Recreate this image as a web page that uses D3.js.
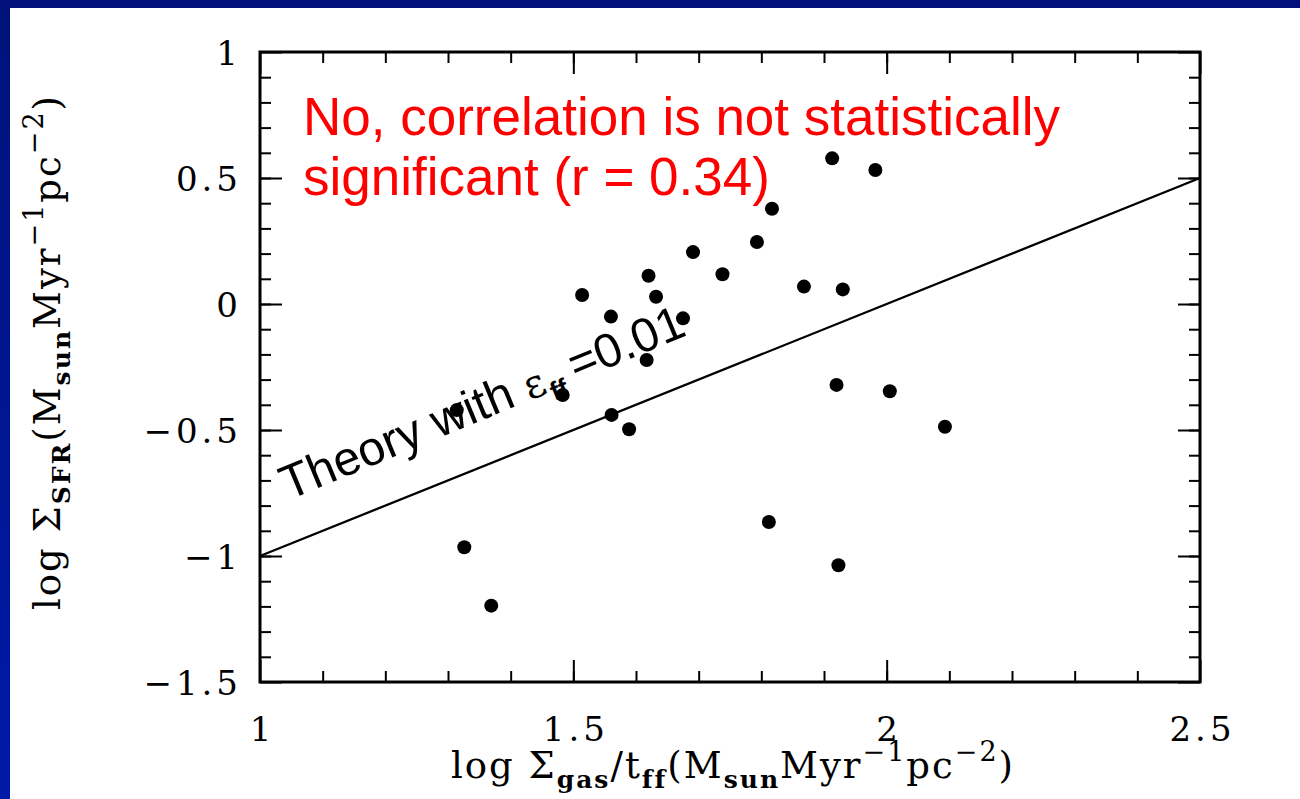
<!DOCTYPE html>
<html>
<head>
<meta charset="utf-8">
<script src="https://cdn.jsdelivr.net/npm/d3@7"></script>
<style>
  body { margin: 0; background: #fff; }
  svg { display: block; }
  .tick text { font-family: "DejaVu Serif", serif; }
</style>
</head>
<body>
<svg id="chart" width="1300" height="799"></svg>
<script>
// points
var gasRate = [1.314, 1.326, 1.369, 1.483, 1.514, 1.560, 1.561, 1.589, 1.620, 1.617,
               1.632, 1.675, 1.691, 1.738, 1.793, 1.817, 1.812, 1.868, 1.913, 1.920,
               1.923, 1.930, 1.982, 2.005, 2.093];
var sfr = [-0.421, -0.965, -1.197, -0.361, 0.036, -0.050, -0.440, -0.497, 0.112, -0.222,
           0.029, -0.057, 0.206, 0.118, 0.246, 0.378, -0.865, 0.069, 0.578, -0.321,
           -1.037, 0.058, 0.532, -0.346, -0.487];
var theoryX = [1, 2.5];
var theoryY = [-1, 0.5];
var xTicks = [1, 1.5, 2, 2.5];
var yTicks = [-1.5, -1, -0.5, 0, 0.5, 1];
var note = ["No, correlation is not statistically", "significant (r = 0.34)"];

(function () {
  var margin = {top: 52, right: 100, bottom: 117, left: 260};
  var width = 1300 - margin.left - margin.right;
  var height = 799 - margin.top - margin.bottom;

  var svg = d3.select("#chart");

  // blue slide frame
  var grad = svg.append("defs").append("linearGradient")
      .attr("id", "side").attr("x1", 0).attr("y1", 0).attr("x2", 0).attr("y2", 1);
  grad.append("stop").attr("offset", "0%").attr("stop-color", "#00127a");
  grad.append("stop").attr("offset", "100%").attr("stop-color", "#001aa8");
  svg.append("rect").attr("x", 0).attr("y", 0).attr("width", 1300).attr("height", 8)
      .attr("fill", "#00127a");
  svg.append("rect").attr("x", 0).attr("y", 0).attr("width", 10).attr("height", 799)
      .attr("fill", "url(#side)");

  var vis = svg.append("g")
      .attr("transform", "translate(" + margin.left + "," + margin.top + ")");

  var x = d3.scaleLinear().domain([1, 2.5]).range([0, width]);
  var y = d3.scaleLinear().domain([-1.5, 1]).range([height, 0]);

  var minorX = d3.range(11, 25).map(function(d) { return d / 10; });
  var minorY = d3.range(-14, 10).map(function(d) { return d / 10; });

  function style(g) {
    g.select(".domain").remove();
    g.selectAll(".tick line").attr("stroke", "#000").attr("stroke-width", 2);
  }

  // minor ticks on all four sides
  vis.append("g").attr("transform", "translate(0," + height + ")")
    .call(d3.axisBottom(x).tickValues(minorX).tickSize(-11).tickFormat(""))
    .call(style);
  vis.append("g")
    .call(d3.axisTop(x).tickValues(minorX).tickSize(-11).tickFormat(""))
    .call(style);
  vis.append("g")
    .call(d3.axisLeft(y).tickValues(minorY).tickSize(-11).tickFormat(""))
    .call(style);
  vis.append("g").attr("transform", "translate(" + width + ",0)")
    .call(d3.axisRight(y).tickValues(minorY).tickSize(-11).tickFormat(""))
    .call(style);

  // major ticks + labels
  var fmt = d3.format("");
  var xb = vis.append("g").attr("transform", "translate(0," + height + ")")
    .call(d3.axisBottom(x).tickValues(xTicks).tickSize(-22).tickPadding(35).tickFormat(fmt))
    .call(style);
  xb.selectAll("text").attr("font-size", 34).attr("fill", "#000")
    .style("letter-spacing", "4px").attr("dx", 2);
  vis.append("g")
    .call(d3.axisTop(x).tickValues(xTicks).tickSize(-22).tickFormat(""))
    .call(style);
  var yl = vis.append("g")
    .call(d3.axisLeft(y).tickValues(yTicks).tickSize(-22).tickPadding(22).tickFormat(fmt))
    .call(style);
  yl.selectAll("text").attr("font-size", 34).attr("fill", "#000")
    .style("letter-spacing", "4px").attr("dx", 4).attr("dy", "0.36em");
  vis.append("g").attr("transform", "translate(" + width + ",0)")
    .call(d3.axisRight(y).tickValues(yTicks).tickSize(-22).tickFormat(""))
    .call(style);

  // frame
  vis.append("rect").attr("width", width).attr("height", height)
    .attr("fill", "none").attr("stroke", "#000").attr("stroke-width", 3);

  // theory line
  var line = d3.line()
    .x(function(d) { return x(d[0]); })
    .y(function(d) { return y(d[1]); });
  vis.append("path")
    .datum(d3.zip(theoryX, theoryY))
    .attr("d", line)
    .attr("fill", "none").attr("stroke", "#000").attr("stroke-width", 2.3);

  // data points
  vis.selectAll("circle")
    .data(d3.zip(gasRate, sfr))
    .enter().append("circle")
      .attr("cx", function(d) { return x(d[0]); })
      .attr("cy", function(d) { return y(d[1]); })
      .attr("r", 7)
      .attr("fill", "#000");

  // theory label
  var lab = vis.append("text")
    .attr("transform", "translate(" + x(1.045) + "," + y(-0.78) + ") rotate(-22.5)")
    .attr("font-family", "Liberation Sans, Arial, sans-serif")
    .attr("font-size", 48).attr("fill", "#000");
  lab.append("tspan").text("Theory with ");
  lab.append("tspan").attr("font-family", "DejaVu Serif, serif").attr("font-size", 40).text("\u03b5");
  lab.append("tspan").attr("font-size", 26).attr("font-weight", "bold").attr("dy", 10).attr("dx", 2).text("ff");
  lab.append("tspan").attr("dy", -10).attr("dx", 10).text("=0.01");

  // red annotation
  vis.selectAll(".note")
    .data(note)
    .enter().append("text")
      .attr("class", "note")
      .attr("x", 43)
      .attr("y", function(d, i) { return 83 + i * 60; })
      .attr("font-family", "Liberation Sans, Arial, sans-serif")
      .attr("font-size", 53)
      .attr("fill", "#ff0000")
      .text(function(d) { return d; });

  // axis titles: parts are [text, "sub"|"sup"|undefined]
  function title(t, parts) {
    var shift = 0;
    parts.forEach(function(p) {
      var s = t.append("tspan").text(p[0]);
      var want = p[1] === "sub" ? 10 : p[1] === "sup" ? -17 : 0;
      s.attr("dy", want - shift);
      shift = want;
      if (p[1] === "sub") s.attr("font-size", 25).attr("font-weight", "bold");
      if (p[1] === "sup") s.attr("font-size", 27);
    });
  }

  var xt = svg.append("text")
    .attr("x", 733).attr("y", 778)
    .attr("text-anchor", "middle")
    .attr("font-family", "DejaVu Serif, serif")
    .attr("font-size", 37).attr("fill", "#000")
    .style("letter-spacing", "2px");
  title(xt, [["log  \u03a3"], ["gas", "sub"], ["/t"], ["ff", "sub"], ["(M"], ["sun", "sub"],
             ["Myr"], ["\u22121", "sup"], ["pc"], ["\u22122", "sup"], [")"]]);

  var yt = svg.append("text")
    .attr("transform", "translate(60,352) rotate(-90)")
    .attr("text-anchor", "middle")
    .attr("font-family", "DejaVu Serif, serif")
    .attr("font-size", 37).attr("fill", "#000")
    .style("letter-spacing", "2px");
  title(yt, [["log  \u03a3"], ["SFR", "sub"], ["(M"], ["sun", "sub"],
             ["Myr"], ["\u22121", "sup"], ["pc"], ["\u22122", "sup"], [")"]]);
})();
</script>
</body>
</html>
